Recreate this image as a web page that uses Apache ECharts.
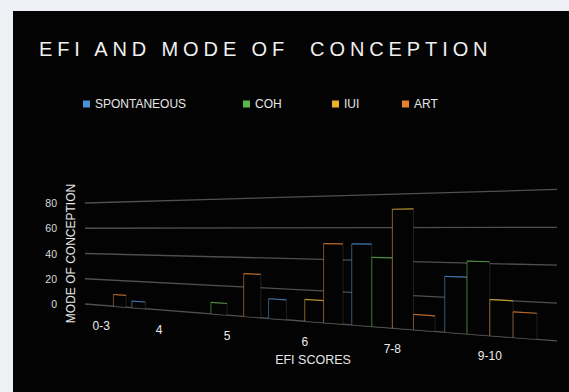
<!DOCTYPE html>
<html>
<head>
<meta charset="utf-8">
<script src="https://cdn.jsdelivr.net/npm/echarts@6/dist/echarts.min.js"></script>
<style>
  html, body { margin: 0; padding: 0; width: 569px; height: 392px; background: #eef0f6; overflow: hidden; }
  #panel { position: absolute; left: 13px; top: 11px; right: 0; bottom: 0; background: #030303; }
  #chart { position: absolute; left: 0; top: 0; width: 569px; height: 392px; }
</style>
</head>
<body>
<div id="panel"></div>
<div id="chart"></div>
<script>
const TITLE = 'EFI AND MODE OF  CONCEPTION';
const categories = ['0-3', '4', '5', '6', '7-8', '9-10'];
const yTicks = [0, 20, 40, 60, 80];
const seriesNames = ['SPONTANEOUS', 'COH', 'IUI', 'ART'];
const spontaneous = [0, 5, 0, 13, 50, 32];
const coh = [0, 0, 8, 0, 42, 41];
const iui = [0, 0, 0, 14, 71, 20];
const art = [9, 0, 29, 50, 9, 14];

const values = [spontaneous, coh, iui, art];
const colors = ['#4a8fd6', '#5cb548', '#e8b52a', '#e8802a'];
const FONT = '"Liberation Sans", Arial, Helvetica, sans-serif';

// Perspective helpers: the flat cartesian grid is bent so that the floor
// drops and the value scale grows towards the right, like a tilted 3D wall.
function makeProj(params, api) {
  const cs = params.coordSys;
  const baseY = api.coord([0, 0])[1];
  const drop = cs.height * 0.366;
  const grow = 0.5;
  return {
    cs,
    baseY,
    projX(px) {
      const t = (px - cs.x) / cs.width;
      return cs.x + cs.width * (-0.0193 + 0.6119 * t + 0.3761 * t * t);
    },
    projY(X, py) {
      const s = (X - cs.x) / cs.width;
      return baseY + drop * s + (py - baseY) * (1 + grow * s);
    }
  };
}

function barRenderer(j) {
  return function (params, api) {
    const v = api.value(1);
    if (!v) return null;
    const p = makeProj(params, api);
    const c0 = api.coord([api.value(0), 0]);
    const c1 = api.coord([api.value(0), v]);
    const band = api.size([1, 0])[0];
    const groupW = band * 0.9;
    const barW = groupW / 4;
    const l = c0[0] - groupW / 2 + j * barW;
    const XL = p.projX(l), XR = p.projX(l + barW);
    const bl = [XL, p.projY(XL, c0[1])], br = [XR, p.projY(XR, c0[1])];
    const tr = [XR, p.projY(XR, c1[1])], tl = [XL, p.projY(XL, c1[1])];
    return {
      type: 'group',
      children: [
        { type: 'polygon', shape: { points: [bl, br, tr, tl] },
          style: { fill: '#030303', stroke: 'rgba(255,255,255,0.12)', lineWidth: 1 } },
        { type: 'line', shape: { x1: bl[0], y1: bl[1], x2: tl[0], y2: tl[1] },
          style: { stroke: colors[j], opacity: 0.45, lineWidth: 1 } },
        { type: 'line', shape: { x1: tl[0], y1: tl[1], x2: tr[0], y2: tr[1] },
          style: { stroke: colors[j], opacity: 0.75, lineWidth: 1.2 } }
      ]
    };
  };
}

const barSeries = seriesNames.map((name, j) => ({
  name,
  type: 'custom',
  z: 3,
  itemStyle: { color: colors[j] },
  renderItem: barRenderer(j),
  data: categories.map((c, i) => [i, values[j][i]])
}));

const gridSeries = {
  type: 'custom',
  silent: true,
  z: 1,
  data: yTicks.map(v => [0, v]),
  renderItem(params, api) {
    const p = makeProj(params, api);
    const py = api.coord([0, api.value(1)])[1];
    const X1 = p.cs.x, X2 = p.cs.x + p.cs.width;
    return {
      type: 'line',
      shape: { x1: X1, y1: p.projY(X1, py), x2: X2, y2: p.projY(X2, py) },
      style: { stroke: 'rgba(255,255,255,0.3)', lineWidth: 1.3 }
    };
  }
};

const labelSeries = {
  type: 'custom',
  silent: true,
  z: 4,
  data: categories.map((c, i) => [i, 0]),
  renderItem(params, api) {
    const p = makeProj(params, api);
    const c0 = api.coord([api.value(0), 0]);
    const X = p.projX(c0[0]);
    return {
      type: 'text',
      x: X,
      y: p.projY(X, c0[1]) + 20.5,
      style: {
        text: categories[params.dataIndex],
        fill: '#ececec',
        font: '12px ' + FONT,
        align: 'center',
        verticalAlign: 'middle'
      }
    };
  }
};

const legendLeft = [83, 243, 332, 402];
const legends = seriesNames.map((name, j) => ({
  data: [name],
  left: legendLeft[j],
  top: 93,
  padding: [5, 0, 5, 0],
  icon: 'rect',
  itemWidth: 7,
  itemHeight: 7,
  textStyle: { color: '#e6e6e6', fontSize: 12, fontFamily: FONT }
}));

const chart = echarts.init(document.getElementById('chart'), null, { renderer: 'svg' });
chart.setOption({
  animation: false,
  backgroundColor: 'transparent',
  color: colors,
  title: {
    text: TITLE,
    left: 39,
    top: 39,
    padding: 0,
    textStyle: { color: '#f0f0f0', fontSize: 20, fontWeight: 'normal', fontFamily: FONT }
  },
  legend: legends,
  grid: { left: 85, right: 12, top: 203, bottom: 88 },
  xAxis: {
    type: 'category',
    data: categories,
    axisLine: { show: false },
    axisTick: { show: false },
    axisLabel: { show: false },
    splitLine: { show: false },
    name: 'EFI SCORES',
    nameLocation: 'middle',
    nameGap: 49,
    nameTextStyle: { color: '#e6e6e6', fontSize: 12.5, fontFamily: FONT, padding: [0, 16, 0, 0] }
  },
  yAxis: {
    type: 'value',
    min: 0,
    max: 80,
    interval: 20,
    axisLine: { show: false },
    axisTick: { show: false },
    splitLine: { show: false },
    axisLabel: { color: '#dcdcdc', fontSize: 10.5, fontFamily: FONT, margin: 28 },
    name: 'MODE OF CONCEPTION',
    nameLocation: 'middle',
    nameGap: 8,
    nameMoveOverlap: false,
    nameTextStyle: { color: '#e6e6e6', fontSize: 12, fontFamily: FONT }
  },
  series: [gridSeries, ...barSeries, labelSeries]
});

// Spread the title letters the way the heading is set.
function spaceTitle() {
  document.querySelectorAll('#chart svg text').forEach(el => {
    if (el.textContent === TITLE) {
      el.style.letterSpacing = '4.9px';
      el.style.whiteSpace = 'pre';
    }
  });
}
spaceTitle();
chart.on('finished', spaceTitle);
</script>
</body>
</html>
